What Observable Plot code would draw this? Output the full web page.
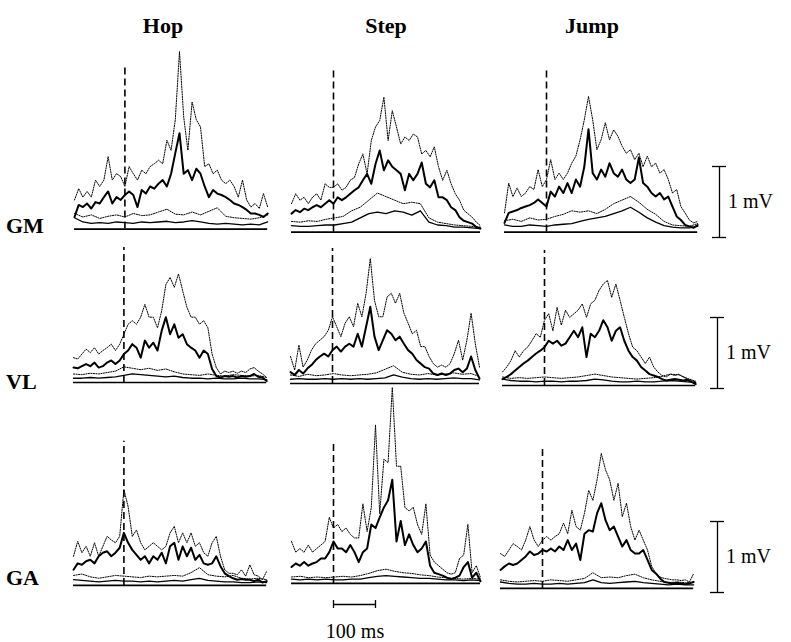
<!DOCTYPE html>
<html><head><meta charset="utf-8">
<script src="https://cdn.jsdelivr.net/npm/d3@7"></script>
<script src="https://cdn.jsdelivr.net/npm/@observablehq/plot@0.6"></script>
<style>
body{margin:0;background:#fff;}
#chart{position:relative;width:791px;height:642px;background:#fff;font-family:"Liberation Serif","Times New Roman",serif;color:#000;overflow:hidden;}
.lbl{position:absolute;font-weight:bold;font-size:22px;line-height:22px;white-space:nowrap;}
.unit{position:absolute;font-size:20px;line-height:20px;white-space:nowrap;}
#chart svg{position:absolute;overflow:visible;}
</style></head><body><div id="chart"></div>
<script>
// ---- categories / labels ----
const tasks = ["Hop", "Step", "Jump"];
const muscles = ["GM", "VL", "GA"];
const scaleLabel = "1 mV";
const timeLabel = "100 ms";
// time span of each task column (ms, 0 = touchdown)
const tHop = [-120, 340];
const tStep = [-100, 350];
const tJump = [-100, 360];
// height of touchdown marker (mV)
const dashGM = [2.28, 2.31, 2.27];
const dashVL = [1.90, 1.90, 1.90];
const dashGA = [2.03, 1.97, 2.01];

// ---- EMG envelopes (mV) ----
const GM_Hop_mean = [0.17,0.34,0.31,0.36,0.29,0.38,0.36,0.45,0.53,0.36,0.45,0.41,0.48,0.53,0.48,0.31,0.55,0.50,0.60,0.57,0.64,0.69,0.60,0.78,1.07,1.35,0.78,0.83,0.69,0.85,0.78,0.60,0.45,0.55,0.50,0.48,0.45,0.41,0.36,0.34,0.31,0.27,0.22,0.22,0.20,0.17,0.22];
const GM_Hop_sd = [0.41,0.57,0.45,0.53,0.45,0.69,0.60,0.69,1.02,0.69,0.78,0.74,0.60,0.88,0.78,0.69,0.83,0.78,0.88,0.92,0.97,0.92,1.25,1.11,1.54,2.50,1.58,1.11,1.79,1.54,1.44,0.88,0.92,0.78,0.83,0.69,0.64,0.69,0.60,0.45,0.69,0.41,0.31,0.36,0.29,0.50,0.31];
const GM_Hop_low = [0.16,0.10,0.08,0.09,0.08,0.10,0.09,0.08,0.10,0.09,0.10,0.11,0.09,0.10,0.12,0.10,0.08,0.07,0.08,0.07,0.06,0.07,0.06,0.10];
const GM_Hop_lowsd = [0.22,0.17,0.20,0.15,0.18,0.20,0.17,0.22,0.19,0.20,0.24,0.28,0.21,0.20,0.24,0.20,0.25,0.30,0.18,0.16,0.15,0.14,0.16,0.20];

const GM_Step_mean = [0.26,0.31,0.28,0.33,0.31,0.35,0.38,0.35,0.40,0.45,0.40,0.49,0.45,0.49,0.54,0.59,0.63,0.73,0.82,0.68,0.96,1.15,0.87,1.01,0.92,0.87,0.82,0.59,0.82,0.73,0.82,0.98,0.68,0.63,0.73,0.49,0.49,0.45,0.35,0.31,0.21,0.16,0.14,0.12,0.07,0.05];
const GM_Step_sd = [0.40,0.54,0.45,0.49,0.40,0.49,0.54,0.45,0.68,0.63,0.63,0.68,0.59,0.63,0.73,0.77,0.96,1.10,0.82,1.29,1.48,1.57,1.90,1.29,1.71,1.48,1.24,1.34,1.29,1.38,1.34,1.10,1.15,1.06,1.20,0.92,0.73,0.87,0.68,0.54,0.45,0.31,0.26,0.21,0.14,0.09];
const GM_Step_low = [0.09,0.08,0.08,0.09,0.10,0.10,0.12,0.14,0.20,0.26,0.28,0.26,0.30,0.28,0.24,0.30,0.14,0.10,0.09,0.07,0.07,0.06,0.05];
const GM_Step_lowsd = [0.15,0.14,0.16,0.15,0.18,0.20,0.22,0.30,0.35,0.45,0.55,0.50,0.45,0.40,0.42,0.40,0.20,0.14,0.12,0.10,0.09,0.08,0.07];

const GM_Jump_mean = [0.13,0.27,0.29,0.31,0.34,0.36,0.38,0.41,0.46,0.41,0.36,0.57,0.50,0.64,0.55,0.69,0.55,0.74,0.64,0.92,1.45,0.83,0.74,0.88,0.78,0.97,0.83,0.78,0.88,0.74,0.69,0.74,1.05,0.69,0.64,0.55,0.50,0.55,0.46,0.50,0.36,0.22,0.17,0.10,0.08,0.06,0.10];
const GM_Jump_sd = [0.27,0.69,0.50,0.62,0.50,0.55,0.64,0.60,0.88,0.64,0.74,1.02,0.74,0.83,0.74,0.83,0.97,1.07,1.30,1.58,1.91,1.58,1.16,1.30,1.54,1.30,1.44,1.35,1.21,1.11,1.16,1.02,1.11,0.92,1.07,0.92,0.97,0.83,0.88,0.74,0.55,0.60,0.36,0.27,0.17,0.13,0.15];
const GM_Jump_low = [0.10,0.08,0.08,0.10,0.09,0.08,0.10,0.11,0.12,0.15,0.18,0.20,0.22,0.26,0.30,0.35,0.28,0.20,0.14,0.09,0.07,0.06,0.06,0.08];
const GM_Jump_lowsd = [0.16,0.18,0.15,0.20,0.17,0.18,0.22,0.25,0.30,0.28,0.30,0.26,0.32,0.40,0.45,0.50,0.42,0.32,0.25,0.15,0.10,0.09,0.08,0.12];

const VL_Hop_mean = [0.21,0.20,0.23,0.26,0.23,0.28,0.21,0.23,0.28,0.31,0.26,0.31,0.40,0.45,0.54,0.49,0.35,0.59,0.49,0.56,0.45,0.73,0.92,0.68,0.82,0.63,0.68,0.54,0.49,0.45,0.35,0.45,0.40,0.19,0.09,0.07,0.09,0.08,0.09,0.07,0.09,0.08,0.09,0.12,0.08,0.07,0.02];
const VL_Hop_sd = [0.35,0.33,0.40,0.47,0.42,0.49,0.40,0.45,0.49,0.54,0.45,0.54,0.68,0.82,0.87,0.82,0.92,1.10,0.92,0.92,0.77,1.01,1.38,1.48,1.34,1.53,1.29,1.06,0.92,0.92,0.82,0.87,0.77,0.40,0.21,0.12,0.16,0.14,0.16,0.13,0.16,0.14,0.19,0.21,0.16,0.12,0.07];
const VL_Hop_low = [0.06,0.06,0.07,0.06,0.07,0.08,0.10,0.12,0.11,0.10,0.09,0.08,0.09,0.07,0.06,0.06,0.05,0.06,0.05,0.05,0.06,0.05,0.05,0.04];
const VL_Hop_lowsd = [0.12,0.11,0.13,0.12,0.14,0.16,0.22,0.20,0.18,0.20,0.17,0.19,0.15,0.12,0.11,0.10,0.12,0.10,0.09,0.11,0.10,0.09,0.10,0.07];

const VL_Step_mean = [0.16,0.12,0.19,0.14,0.21,0.26,0.33,0.38,0.42,0.38,0.47,0.52,0.45,0.52,0.56,0.52,0.70,0.52,0.80,1.08,0.66,0.47,0.61,0.75,0.70,0.61,0.66,0.56,0.47,0.42,0.33,0.28,0.23,0.21,0.14,0.12,0.14,0.12,0.14,0.19,0.21,0.16,0.21,0.38,0.19,0.07];
const VL_Step_sd = [0.38,0.19,0.54,0.23,0.33,0.47,0.56,0.61,0.66,0.75,0.94,0.80,0.66,0.85,0.94,0.80,1.13,0.94,1.27,1.76,1.17,0.94,0.94,1.22,1.27,1.13,1.27,0.99,0.85,0.70,0.75,0.52,0.52,0.38,0.28,0.23,0.26,0.23,0.28,0.42,0.61,0.33,0.61,0.99,0.56,0.23];
const VL_Step_low = [0.06,0.07,0.06,0.06,0.07,0.06,0.07,0.06,0.07,0.06,0.07,0.08,0.12,0.09,0.07,0.06,0.07,0.06,0.07,0.08,0.07,0.07,0.05];
const VL_Step_lowsd = [0.12,0.10,0.13,0.11,0.12,0.14,0.12,0.11,0.12,0.13,0.15,0.20,0.25,0.16,0.13,0.12,0.14,0.12,0.13,0.15,0.13,0.14,0.10];

const VL_Jump_mean = [0.09,0.12,0.16,0.21,0.26,0.31,0.35,0.40,0.45,0.49,0.54,0.63,0.59,0.63,0.56,0.59,0.68,0.77,0.68,0.82,0.40,0.73,0.68,0.77,0.92,0.82,0.63,0.77,0.82,0.63,0.49,0.40,0.35,0.26,0.21,0.16,0.14,0.12,0.09,0.07,0.08,0.09,0.08,0.07,0.08,0.05,0.02];
const VL_Jump_sd = [0.19,0.26,0.35,0.49,0.40,0.49,0.54,0.63,0.73,0.68,0.92,1.01,0.77,1.10,0.85,1.06,0.96,1.01,1.06,1.15,0.96,1.15,1.20,1.34,1.43,1.48,1.24,1.43,1.20,0.96,0.73,0.54,0.49,0.40,0.31,0.40,0.26,0.19,0.14,0.12,0.16,0.14,0.16,0.12,0.09,0.07,0.05];
const VL_Jump_low = [0.09,0.07,0.06,0.06,0.05,0.06,0.06,0.05,0.06,0.06,0.07,0.09,0.08,0.06,0.05,0.05,0.06,0.05,0.05,0.06,0.07,0.06,0.05,0.04];
const VL_Jump_lowsd = [0.12,0.10,0.11,0.10,0.11,0.12,0.11,0.10,0.11,0.12,0.14,0.16,0.14,0.12,0.11,0.10,0.09,0.10,0.11,0.13,0.16,0.15,0.10,0.06];

const GA_Hop_mean = [0.22,0.31,0.29,0.34,0.36,0.31,0.41,0.46,0.48,0.41,0.46,0.53,0.74,0.60,0.50,0.43,0.36,0.41,0.31,0.41,0.36,0.46,0.31,0.55,0.60,0.36,0.55,0.41,0.53,0.36,0.43,0.31,0.29,0.31,0.41,0.27,0.17,0.13,0.10,0.08,0.09,0.08,0.08,0.06,0.08,0.04,0.06];
const GA_Hop_sd = [0.41,0.62,0.46,0.55,0.41,0.60,0.41,0.55,0.69,0.64,0.60,0.69,1.35,1.11,0.69,0.78,0.60,0.50,0.55,0.60,0.55,0.50,0.55,0.74,0.83,0.60,0.74,0.60,0.74,0.55,0.60,0.46,0.41,0.60,0.69,0.41,0.22,0.17,0.17,0.15,0.22,0.13,0.29,0.15,0.13,0.08,0.20];
const GA_Hop_low = [0.08,0.07,0.06,0.05,0.06,0.07,0.06,0.06,0.05,0.06,0.05,0.06,0.07,0.06,0.08,0.10,0.07,0.06,0.05,0.05,0.04,0.04,0.05,0.04];
const GA_Hop_lowsd = [0.14,0.16,0.12,0.10,0.12,0.14,0.13,0.12,0.11,0.13,0.12,0.13,0.14,0.13,0.18,0.25,0.15,0.13,0.12,0.14,0.10,0.09,0.10,0.08];

const GA_Step_mean = [0.23,0.28,0.25,0.30,0.25,0.28,0.30,0.35,0.35,0.44,0.59,0.49,0.49,0.44,0.54,0.44,0.30,0.44,0.49,0.83,0.78,0.93,1.07,1.17,1.46,0.59,0.88,0.54,0.69,0.54,0.44,0.49,0.59,0.25,0.15,0.13,0.11,0.08,0.06,0.08,0.11,0.23,0.30,0.08,0.15,0.03];
const GA_Step_sd = [0.59,0.44,0.49,0.44,0.54,0.44,0.49,0.54,0.59,0.93,0.78,0.83,0.73,0.78,0.69,0.64,0.64,1.12,0.73,1.07,2.23,0.98,1.75,1.70,2.76,1.65,1.65,1.07,1.02,1.07,0.83,0.69,1.12,0.40,0.30,0.25,0.20,0.15,0.13,0.15,0.35,0.40,0.83,0.15,0.25,0.08];
const GA_Step_low = [0.06,0.05,0.06,0.05,0.06,0.05,0.05,0.06,0.06,0.08,0.10,0.11,0.10,0.09,0.08,0.07,0.07,0.06,0.05,0.05,0.04,0.05,0.04];
const GA_Step_lowsd = [0.09,0.10,0.08,0.09,0.08,0.09,0.10,0.09,0.11,0.14,0.18,0.20,0.17,0.15,0.14,0.12,0.11,0.09,0.08,0.07,0.06,0.07,0.06];

const GA_Jump_mean = [0.26,0.31,0.35,0.33,0.35,0.40,0.45,0.52,0.47,0.49,0.54,0.52,0.56,0.52,0.59,0.54,0.68,0.54,0.63,0.40,0.77,0.82,0.80,1.06,1.20,0.96,0.82,0.87,0.73,0.59,0.68,0.54,0.49,0.49,0.54,0.40,0.26,0.21,0.14,0.09,0.08,0.07,0.08,0.07,0.06,0.07,0.09];
const GA_Jump_sd = [0.49,0.45,0.54,0.63,0.59,0.54,0.68,0.87,0.68,0.59,0.68,0.73,0.68,0.73,0.77,0.92,0.77,1.10,0.87,0.82,1.06,1.38,1.24,1.53,1.90,1.67,1.53,1.24,1.48,1.01,1.20,0.87,0.68,0.82,0.68,0.54,0.31,0.21,0.16,0.14,0.13,0.12,0.12,0.11,0.12,0.09,0.21];
const GA_Jump_low = [0.09,0.07,0.06,0.06,0.07,0.06,0.06,0.07,0.06,0.07,0.08,0.12,0.08,0.07,0.08,0.09,0.10,0.08,0.07,0.06,0.05,0.06,0.05,0.05];
const GA_Jump_lowsd = [0.12,0.10,0.09,0.10,0.11,0.10,0.12,0.11,0.10,0.12,0.14,0.22,0.15,0.16,0.15,0.18,0.20,0.15,0.12,0.10,0.08,0.09,0.08,0.09];

// ---- layout (pixels) ----
const PX_PER_MS = 0.42, PX_PER_MV = 71, M = 6;
const zeroX = {GM: [124, 333, 546], VL: [123, 332, 544], GA: [123, 333, 542]};
const baseY = {GM: [229, 232, 232], VL: [382, 383, 385], GA: [585, 583, 588]};
const yMax = {GM: 2.6, VL: 2.0, GA: 2.9};

const spans = {Hop: tHop, Step: tStep, Jump: tJump};
const dashTops = {GM: dashGM, VL: dashVL, GA: dashGA};
const traces = {
  GM: {Hop: [GM_Hop_mean, GM_Hop_sd, GM_Hop_low, GM_Hop_lowsd], Step: [GM_Step_mean, GM_Step_sd, GM_Step_low, GM_Step_lowsd], Jump: [GM_Jump_mean, GM_Jump_sd, GM_Jump_low, GM_Jump_lowsd]},
  VL: {Hop: [VL_Hop_mean, VL_Hop_sd, VL_Hop_low, VL_Hop_lowsd], Step: [VL_Step_mean, VL_Step_sd, VL_Step_low, VL_Step_lowsd], Jump: [VL_Jump_mean, VL_Jump_sd, VL_Jump_low, VL_Jump_lowsd]},
  GA: {Hop: [GA_Hop_mean, GA_Hop_sd, GA_Hop_low, GA_Hop_lowsd], Step: [GA_Step_mean, GA_Step_sd, GA_Step_low, GA_Step_lowsd], Jump: [GA_Jump_mean, GA_Jump_sd, GA_Jump_low, GA_Jump_lowsd]}
};

const chart = document.getElementById("chart");
function place(el, left, top) { el.style.left = left + "px"; el.style.top = top + "px"; chart.appendChild(el); }
function label(text, cls, left, top, center) {
  const d = document.createElement("div");
  d.className = cls; d.textContent = text;
  if (center) d.style.transform = "translateX(-50%)";
  place(d, left, top);
}
const toSeries = (arr, t0, t1) => arr.map((v, i) => ({t: t0 + i * (t1 - t0) / (arr.length - 1), v}));
const dotted = {stroke: "#000", strokeWidth: 1, strokeDasharray: "1.2,1.3"};

muscles.forEach(mus => {
  tasks.forEach((task, c) => {
    const [t0, t1] = spans[task];
    const ymax = yMax[mus];
    const w = (t1 - t0) * PX_PER_MS, h = ymax * PX_PER_MV;
    const [mean, sd, low, lowsd] = traces[mus][task];
    const svg = Plot.plot({
      width: w + 2 * M, height: h + 2 * M,
      marginLeft: M, marginRight: M, marginTop: M, marginBottom: M,
      x: {domain: [t0, t1], axis: null},
      y: {domain: [0, ymax], axis: null},
      marks: [
        Plot.ruleY([0], {stroke: "#000", strokeWidth: 1.6}),
        Plot.ruleX([{t: 0, a: 0, b: dashTops[mus][c]}], {x: "t", y1: "a", y2: "b", stroke: "#000", strokeWidth: 1.6, strokeDasharray: "7,4"}),
        Plot.line(toSeries(lowsd, t0, t1), {x: "t", y: "v", ...dotted}),
        Plot.line(toSeries(low, t0, t1), {x: "t", y: "v", stroke: "#000", strokeWidth: 1.3}),
        Plot.line(toSeries(sd, t0, t1), {x: "t", y: "v", ...dotted}),
        Plot.line(toSeries(mean, t0, t1), {x: "t", y: "v", stroke: "#000", strokeWidth: 2})
      ]
    });
    place(svg, zeroX[mus][c] + t0 * PX_PER_MS - M, baseY[mus][c] - h - M);
  });
});

// calibration bars (1 mV) to the right of each row
const barX = {GM: 719, VL: 717, GA: 717};
const barBottom = {GM: 237, VL: 388, GA: 592};
muscles.forEach(mus => {
  const svg = Plot.plot({
    width: 14 + 2 * M, height: PX_PER_MV + 2 * M,
    marginLeft: M, marginRight: M, marginTop: M, marginBottom: M,
    x: {domain: [0, 1], axis: null}, y: {domain: [0, 1], axis: null},
    marks: [
      Plot.ruleX([{x: 0.5, a: 0, b: 1}], {x: "x", y1: "a", y2: "b", stroke: "#000", strokeWidth: 1.3}),
      Plot.ruleY([0, 1], {stroke: "#000", strokeWidth: 1.3})
    ]
  });
  place(svg, barX[mus] - 7 - M, barBottom[mus] - PX_PER_MV - M);
  label(scaleLabel, "unit", barX[mus] + 9, barBottom[mus] - 46, false);
});

// time bar (100 ms)
const tb = Plot.plot({
  width: 100 * PX_PER_MS + 2 * M, height: 8 + 2 * M,
  marginLeft: M, marginRight: M, marginTop: M, marginBottom: M,
  x: {domain: [0, 100], axis: null}, y: {domain: [-1, 1], axis: null},
  marks: [
    Plot.ruleY([0], {stroke: "#000", strokeWidth: 1.3}),
    Plot.ruleX([0, 100], {y1: -1, y2: 1, stroke: "#000", strokeWidth: 1.3})
  ]
});
place(tb, 333 - M, 604 - 4 - M);
label(timeLabel, "unit", 355, 621, true);

// titles and row labels
const titleX = [163, 386, 592];
tasks.forEach((t, i) => label(t, "lbl", titleX[i], 15, true));
const rowLabelY = {GM: 215, VL: 371, GA: 567};
muscles.forEach(m => label(m, "lbl", 6, rowLabelY[m], false));
</script></body></html>
